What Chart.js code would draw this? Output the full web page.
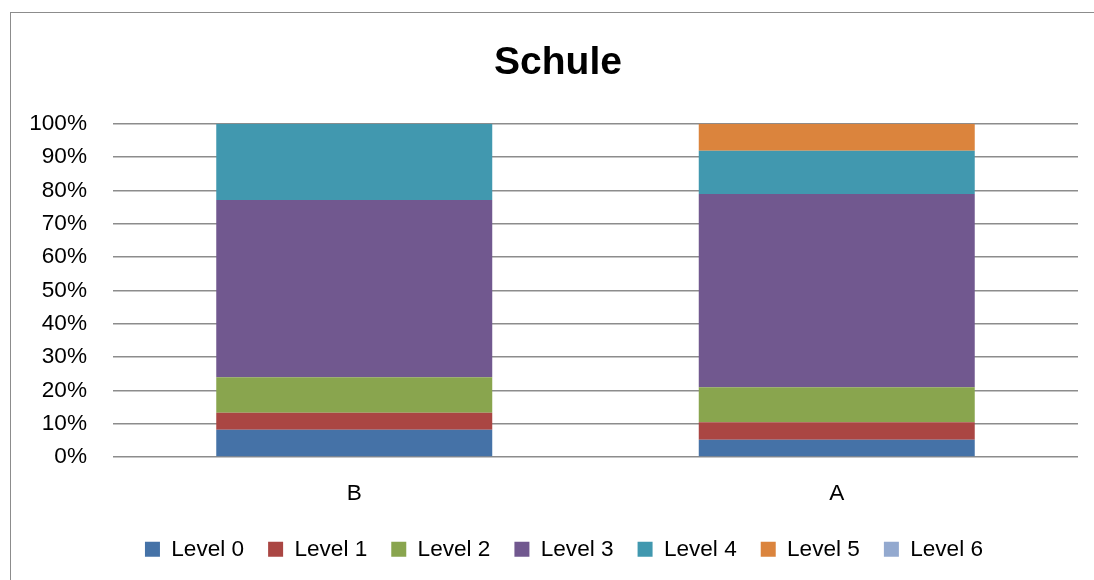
<!DOCTYPE html>
<html>
<head>
<meta charset="utf-8">
<script src="https://cdn.jsdelivr.net/npm/chart.js@4/dist/chart.umd.min.js"></script>
<style>
  html, body { margin: 0; padding: 0; background: #fff; }
  #wrap { position: relative; width: 1094px; height: 580px; overflow: hidden; }
  #frame { position: absolute; left: 10px; top: 12px; width: 2000px; height: 2000px;
           border-left: 1.5px solid #8c8c8c; border-top: 1.5px solid #8c8c8c; }
  canvas { position: absolute; left: 0; top: 0; }
</style>
</head>
<body>
<div id="wrap">
  <div id="frame"></div>
  <canvas id="c" width="1094" height="580"></canvas>
</div>
<script>
const chartTitle = 'Schule';
const categories = ['B', 'A'];
const seriesNames = ['Level 0', 'Level 1', 'Level 2', 'Level 3', 'Level 4', 'Level 5', 'Level 6'];
const level0 = [8.2, 5.2];
const level1 = [5.1, 5.2];
const level2 = [10.6, 10.5];
const level3 = [53.2, 58.0];
const level4 = [22.9, 13.0];
const level5 = [0, 8.1];
const level6 = [0, 0];
const seriesColors = ['#4572A7', '#AA4643', '#89A54E', '#71588F', '#4198AF', '#DB843D', '#93A9CF'];

const seriesValues = [level0, level1, level2, level3, level4, level5, level6];
const FONT = "'Liberation Sans', Arial, sans-serif";

// Shift the centred title and legend slightly right, as in the reference layout
const centreShift = {
  id: 'centreShift',
  afterLayout(chart) {
    if (chart.titleBlock) { chart.titleBlock.left += 6; chart.titleBlock.right += 6; }
    if (chart.legend) { chart.legend.left += 12; chart.legend.right += 12; }
  }
};

new Chart(document.getElementById('c'), {
  type: 'bar',
  data: {
    labels: categories,
    datasets: seriesValues.map((vals, i) => ({
      label: seriesNames[i],
      data: vals,
      backgroundColor: seriesColors[i],
      borderWidth: 0,
      categoryPercentage: 1.0,
      barPercentage: 0.572
    }))
  },
  plugins: [centreShift],
  options: {
    responsive: false,
    animation: false,
    layout: { padding: { left: 26, right: 16, top: 23, bottom: 9.4 } },
    plugins: {
      title: {
        display: true,
        text: chartTitle,
        color: '#000',
        font: { family: FONT, size: 39, weight: 'bold', lineHeight: 1.2 },
        padding: { top: 17, bottom: 37 }
      },
      legend: {
        position: 'bottom',
        labels: {
          color: '#000',
          font: { family: FONT, size: 22.6 },
          boxWidth: 15,
          boxHeight: 15,
          padding: 24
        }
      },
      tooltip: { enabled: false }
    },
    scales: {
      x: {
        stacked: true,
        grid: { display: false, drawTicks: false },
        border: { display: false },
        ticks: { color: '#000', font: { family: FONT, size: 22.6 }, padding: 23 },
        afterFit: (s) => { s.height = 57; }
      },
      y: {
        stacked: true,
        min: 0,
        max: 100,
        ticks: {
          stepSize: 10,
          color: '#000',
          font: { family: FONT, size: 22.6 },
          padding: 26,
          callback: (v) => v + '%'
        },
        grid: { color: '#8c8c8c', lineWidth: 1.5, drawTicks: false },
        border: { display: false },
        afterFit: (s) => { s.width = 87; }
      }
    }
  }
});
</script>
</body>
</html>
